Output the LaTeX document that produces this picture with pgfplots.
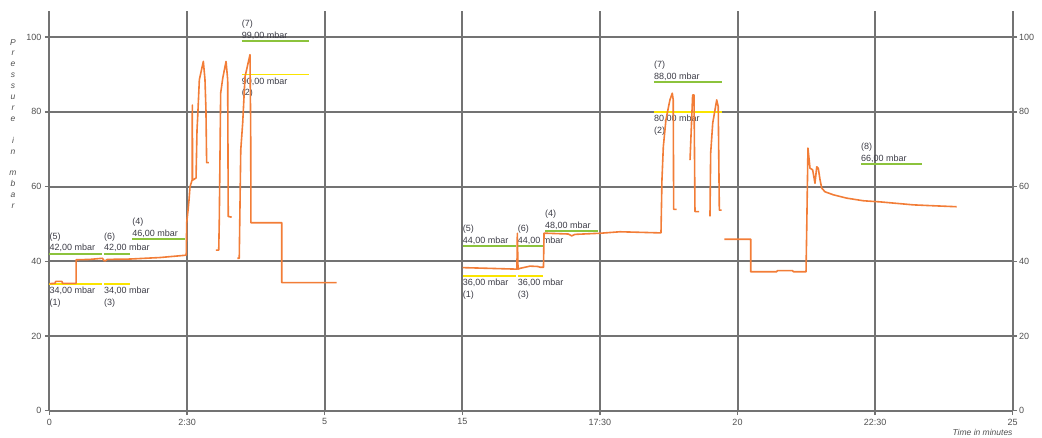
\documentclass[border=0pt]{standalone}
\usepackage{pgfplots}
\pgfplotsset{compat=1.18}
\usepackage{fontspec}
\setmainfont{Liberation Sans}
\definecolor{curve}{RGB}{242,125,55}
\definecolor{thrgreen}{RGB}{140,195,60}
\definecolor{thryellow}{RGB}{250,228,0}
\definecolor{gridc}{RGB}{115,115,115}
\definecolor{txt}{RGB}{60,60,70}
\definecolor{ticktxt}{RGB}{80,80,80}
\tikzset{thrlab/.style={font=\fontsize{9}{11.7}\selectfont, text=txt, inner sep=0pt, align=left}}
\begin{document}
\begin{tikzpicture}
\begin{axis}[
  scale only axis, width=963.2pt, height=399.7pt,
  xmin=0, xmax=7, ymin=0, ymax=107,
  axis x line=bottom, axis y line=box,
  axis line style={-, draw=gridc, line width=2pt},
  xtick={0,1,2,3,4,5,6,7},
  xticklabels={0,2:30,5,15,17:30,20,22:30,25},
  ytick={0,20,40,60,80,100},
  grid=major, major grid style={draw=gridc, line width=2pt},
  tick align=outside, major tick length=4.5pt,
  tick style={draw=gridc, line width=1.5pt},
  ticklabel style={font=\fontsize{9}{10}\selectfont, text=ticktxt},
  /pgf/number format/assume math mode=true,
  unbounded coords=jump,
  clip=false,
]
% threshold lines
\addplot[thrgreen, line width=1.8pt] coordinates {
(0,42) (0.382,42) (0.39,nan) (0.396,42) (0.585,42) (0.59,nan) (0.600,46) (0.985,46) (1,nan)
(1.397,99) (1.886,99) (2,nan) (3.003,44) (3.390,44) (3.395,nan) (3.403,44) (3.587,44) (3.595,nan)
(3.601,48) (3.984,48) (4,nan) (4.393,88) (4.887,88) (5,nan) (5.897,66) (6.339,66)};
\addplot[thryellow, line width=1.8pt] coordinates {
(0,34) (0.382,34) (0.39,nan) (0.396,34) (0.585,34) (1,nan) (1.397,90) (1.886,90) (2,nan)
(3.003,36) (3.390,36) (3.395,nan) (3.403,36) (3.587,36) (4,nan) (4.393,80) (4.887,80)};
% labels
\node[thrlab, anchor=south west, yshift=1.5pt] at (axis cs:0,42) {(5)\\42,00 mbar};
\node[thrlab, anchor=south west, yshift=1.5pt] at (axis cs:0.396,42) {(6)\\42,00 mbar};
\node[thrlab, anchor=south west, yshift=1.5pt] at (axis cs:0.600,46) {(4)\\46,00 mbar};
\node[thrlab, anchor=south west, yshift=1.5pt] at (axis cs:1.397,99) {(7)\\99,00 mbar};
\node[thrlab, anchor=south west, yshift=1.5pt] at (axis cs:3.003,44) {(5)\\44,00 mbar};
\node[thrlab, anchor=south west, yshift=1.5pt] at (axis cs:3.403,44) {(6)\\44,00 mbar};
\node[thrlab, anchor=south west, yshift=1.5pt] at (axis cs:3.601,48) {(4)\\48,00 mbar};
\node[thrlab, anchor=south west, yshift=1.5pt] at (axis cs:4.393,88) {(7)\\88,00 mbar};
\node[thrlab, anchor=south west, yshift=1.5pt] at (axis cs:5.897,66) {(8)\\66,00 mbar};
\node[thrlab, anchor=north west, yshift=-3pt] at (axis cs:0,34) {34,00 mbar\\(1)};
\node[thrlab, anchor=north west, yshift=-3pt] at (axis cs:0.396,34) {34,00 mbar\\(3)};
\node[thrlab, anchor=north west, yshift=-3pt] at (axis cs:1.397,90) {90,00 mbar\\(2)};
\node[thrlab, anchor=north west, yshift=-3pt] at (axis cs:3.003,36) {36,00 mbar\\(1)};
\node[thrlab, anchor=north west, yshift=-3pt] at (axis cs:3.403,36) {36,00 mbar\\(3)};
\node[thrlab, anchor=north west, yshift=-3pt] at (axis cs:4.393,80) {80,00 mbar\\(2)};
% pressure curve
\addplot[curve, line width=1.6pt, line join=round] coordinates {
(0,34.0) (0.04,34.1) (0.045,34.6) (0.09,34.6) (0.095,34.1) (0.193,34.1) (0.193,40.4) (0.294,40.5)
(0.385,40.8) (0.395,40.2) (0.405,40.1) (0.42,40.5) (0.585,40.6) (0.803,41.0) (0.985,41.6) (0.994,41.7)
(0.997,50.3) (1.007,53.7) (1.014,56.4) (1.021,59.9) (1.036,61.7) (1.038,81.8) (1.040,61.7) (1.065,62.3)
(1.072,75.1) (1.077,78.7) (1.089,88.6) (1.118,93.5) (1.130,88.6) (1.137,80.5) (1.142,66.4) (1.159,66.4) (1.18,nan)
(1.210,43.0) (1.230,43.0) (1.234,51.1) (1.244,85.0) (1.259,89.0) (1.283,93.5) (1.295,88.6) (1.299,52.0) (1.324,51.8) (1.34,nan)
(1.366,40.8) (1.379,40.8) (1.390,69.8) (1.404,77.0) (1.421,89.4) (1.457,95.3) (1.462,76.1) (1.464,50.3)
(1.688,50.3) (1.688,34.3) (2.087,34.3) (2.5,nan)
(3.003,38.3) (3.201,38.1) (3.390,37.9) (3.397,37.9) (3.400,47.5) (3.405,37.9) (3.419,38.1) (3.492,38.7)
(3.550,38.6) (3.565,38.4) (3.590,38.4) (3.594,47.5) (3.613,47.5) (3.770,47.3) (3.795,46.8) (3.819,47.2)
(4.001,47.5) (4.146,47.9) (4.437,47.6) (4.444,47.6) (4.451,61.8) (4.461,70.7) (4.480,77.9) (4.509,83.2)
(4.526,85.0) (4.533,83.2) (4.536,53.9) (4.558,53.9) (4.6,nan)
(4.655,67.1) (4.674,84.5) (4.684,84.5) (4.691,53.3) (4.722,53.3) (4.76,nan)
(4.800,52.0) (4.805,68.9) (4.820,77.0) (4.849,83.2) (4.860,81.4) (4.868,53.7) (4.885,53.7) (4.89,nan)
(4.904,45.9) (5.096,45.9) (5.096,37.2) (5.285,37.2) (5.29,37.5) (5.40,37.5) (5.406,37.2) (5.498,37.2)
(5.503,48.4) (5.512,70.3) (5.527,64.9) (5.546,64.5) (5.563,60.9) (5.576,65.3) (5.587,64.9) (5.600,61.8)
(5.612,59.6) (5.636,58.6) (5.696,57.8) (5.794,56.9) (5.914,56.2) (6.036,55.9) (6.157,55.5) (6.278,55.1)
(6.399,54.9) (6.593,54.6)};
% axis titles
\node[font=\itshape\fontsize{8.5}{10.9}\selectfont, text=ticktxt, align=center, anchor=north, inner sep=0pt, xshift=-36.5pt]
  at (rel axis cs:0,0.930) {P\\r\\e\\s\\s\\u\\r\\e\\\strut\\i\\n\\\strut\\m\\b\\a\\r};
\node[font=\itshape\fontsize{8.5}{10}\selectfont, text=ticktxt, anchor=north east, inner sep=0pt, yshift=-18pt]
  at (rel axis cs:1,0) {Time in minutes};
\end{axis}
\begin{axis}[
  scale only axis, width=963.2pt, height=399.7pt,
  xmin=0, xmax=7, ymin=0, ymax=107,
  axis x line=none, axis y line*=right,
  axis line style={draw=none},
  ytick={0,20,40,60,80,100},
  major tick length=0pt,
  yticklabel style={font=\fontsize{9}{10}\selectfont, text=ticktxt, xshift=3pt},
  /pgf/number format/assume math mode=true,
]
\addplot[draw=none] coordinates {(0,0)};
\end{axis}
\pgfresetboundingbox
\path (-49.5pt,-27.3pt) rectangle (992.5pt,410.7pt);
\end{tikzpicture}
\end{document}
